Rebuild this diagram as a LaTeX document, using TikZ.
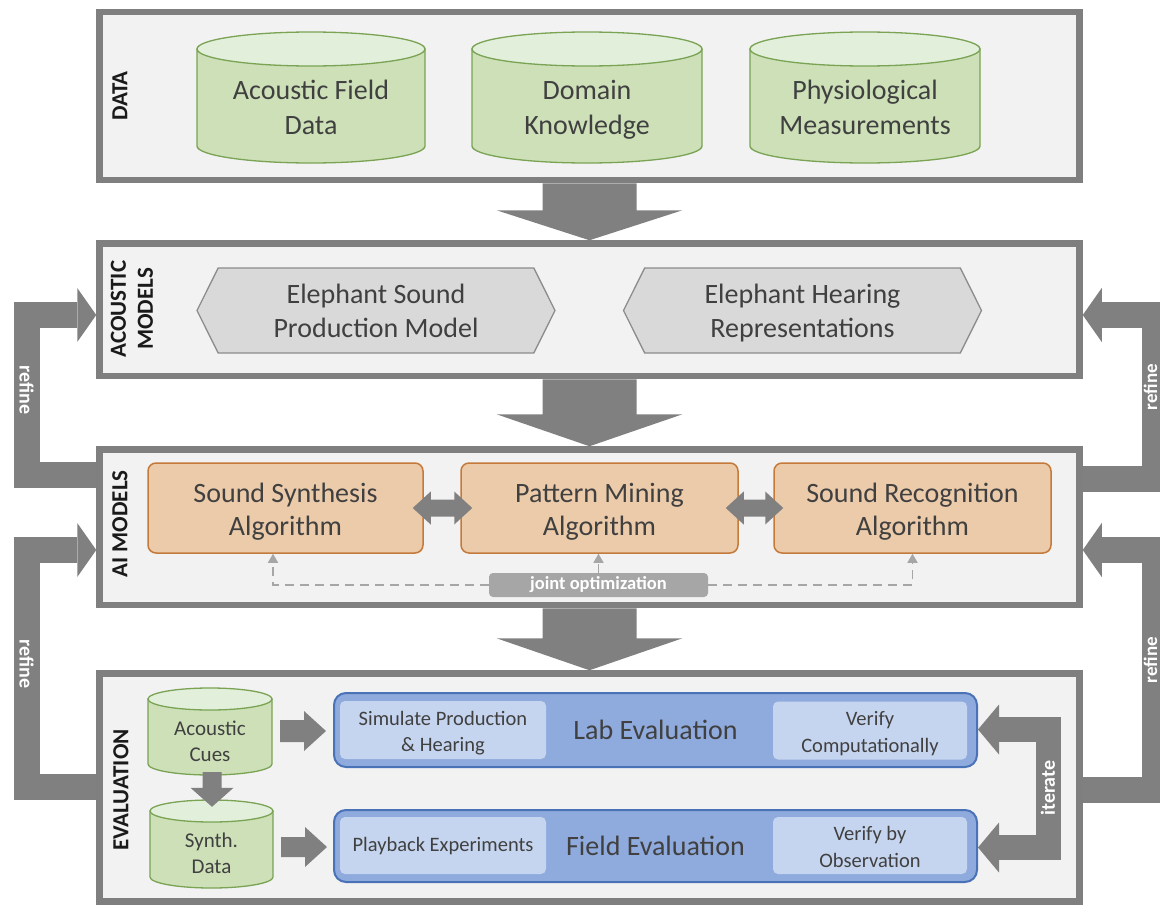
\documentclass[tikz,border=0pt]{standalone}
\usepackage{fontspec}
\setmainfont{Carlito}
\usetikzlibrary{calc,shapes.symbols,arrows.meta}

\definecolor{frameGray}{HTML}{7F7F7F}
\definecolor{panelFill}{HTML}{F2F2F2}
\definecolor{blockGray}{HTML}{808080}
\definecolor{inkDark}{HTML}{404040}
\definecolor{labelInk}{HTML}{1A1A1A}
\definecolor{drumSide}{HTML}{CDE0B8}
\definecolor{drumTop}{HTML}{E2EFDA}
\definecolor{drumEdge}{HTML}{7AA354}
\definecolor{hexFill}{HTML}{D9D9D9}
\definecolor{hexEdge}{HTML}{8C8C8C}
\definecolor{algoFill}{HTML}{ECCBAA}
\definecolor{algoEdge}{HTML}{C47A3A}
\definecolor{evalFill}{HTML}{8FAADC}
\definecolor{evalEdge}{HTML}{4A72B7}
\definecolor{evalSub}{HTML}{C6D5EF}
\definecolor{jointGray}{HTML}{A6A6A6}

% invisible struts that fix the height of the first line and the depth of the last
\newcommand\toprise[1]{\rule{0pt}{#1}}
\newcommand\bottomdrop{\vphantom{gy}}

% cylinder: name, centre x, top y, bottom y, width, cap radius, font, text
\newcommand\drum[8]{%
  \pgfmathsetmacro\drumL{#2-#5/2}\pgfmathsetmacro\drumR{#2+#5/2}%
  \pgfmathsetmacro\drumT{#3+#6}\pgfmathsetmacro\drumB{#4-#6}%
  \pgfmathsetmacro\drumM{(\drumT+#4)/2}\pgfmathsetmacro\drumH{#4-\drumT}%
  \filldraw[drumline,fill=drumSide] (\drumL,\drumT) -- (\drumL,\drumB)
    arc[start angle=180,end angle=0,x radius=#5/2,y radius=#6] -- (\drumR,\drumT) -- cycle;
  \filldraw[drumline,fill=drumTop] (#2,\drumT) ellipse[x radius=#5/2,y radius=#6];
  \node[drumtext,#7,minimum width=#5pt,minimum height=\drumH pt] (#1) at (#2,\drumM) {#8};
}

% straight block arrow: tail, tip, shaft half width, head half width, head length
\newcommand\blockarrow[5]{%
  \coordinate (ba@t) at (#1);\coordinate (ba@h) at (#2);
  \coordinate (ba@b) at ($(ba@h)!#5!(ba@t)$);
  \fill[blockGray] ($(ba@t)!#3!90:(ba@h)$) -- ($(ba@b)!#3!90:(ba@h)$)
    -- ($(ba@b)!#4!90:(ba@h)$) -- (ba@h) -- ($(ba@b)!#4!-90:(ba@h)$)
    -- ($(ba@b)!#3!-90:(ba@h)$) -- ($(ba@t)!#3!-90:(ba@h)$) -- cycle;
}

% bent feedback arrow: tail, first bend, second bend, tip, bar width, head half width
\newcommand\elbowarrow[6]{%
  \coordinate (ea@b) at ($(#4)!19pt!(#3)$);
  \draw[fatline,line width=#5] (#1) -- (#2) -- (#3) -- (ea@b);
  \fill[blockGray] ($(ea@b)!#6!90:(#4)$) -- (#4) -- ($(ea@b)!#6!-90:(#4)$) -- cycle;
}

% two-headed block arrow between neighbours: left tip, right tip
\newcommand\twinarrow[2]{%
  \fill[blockGray] (#1) -- ($(#1)+(18,-16.5)$) -- ($(#1)+(18,-8.5)$) -- ($(#2)+(-18,-8.5)$)
    -- ($(#2)+(-18,-16.5)$) -- (#2) -- ($(#2)+(-18,16.5)$) -- ($(#2)+(-18,8.5)$)
    -- ($(#1)+(18,8.5)$) -- ($(#1)+(18,16.5)$) -- cycle;
}

\begin{document}
\begin{tikzpicture}[x=1pt,y=-1pt,
  panel/.style={draw=frameGray,fill=panelFill,line width=6.5pt,inner sep=0pt},
  section/.style={rotate=90,align=center,text=labelInk,font=\bfseries\fontsize{23}{27}\selectfont},
  drumline/.style={draw=drumEdge,line width=1.3pt},
  drumtext/.style={align=center,text=inkDark,inner sep=0pt},
  bigtext/.style={font=\fontsize{28}{35}\selectfont},
  smalltext/.style={font=\fontsize{21}{26}\selectfont},
  hexa/.style={signal,signal to=west and east,signal pointer angle=127,
    draw=hexEdge,fill=hexFill,line width=1.3pt,align=center,text=inkDark,inner sep=0pt,
    minimum width=358pt,minimum height=85pt,font=\fontsize{28}{34}\selectfont},
  algo/.style={draw=algoEdge,fill=algoFill,line width=1.5pt,rounded corners=8pt,
    align=center,text=inkDark,minimum height=90pt,inner sep=0pt,
    font=\fontsize{28}{33}\selectfont},
  evalbox/.style={draw=evalEdge,fill=evalFill,line width=2pt,rounded corners=12pt,
    minimum width=643pt,inner sep=0pt,text=inkDark,font=\fontsize{28}{33}\selectfont},
  evalsub/.style={fill=evalSub,rounded corners=5pt,align=center,inner sep=0pt,
    text=inkDark,font=\fontsize{20.5}{26.5}\selectfont},
  fatline/.style={draw=blockGray,line join=miter,line cap=butt},
  barlabel/.style={text=white,font=\bfseries\fontsize{20}{24}\selectfont,inner sep=0pt},
  jointline/.style={draw=jointGray,line width=1.5pt,dash pattern=on 9pt off 6pt,
    -{Triangle[length=9pt,width=10pt]}},
  jointbox/.style={fill=jointGray,rounded corners=4pt,text=white,inner sep=0pt,
    minimum width=219pt,minimum height=24pt,font=\bfseries\fontsize{18.5}{22}\selectfont}]

\clip (0,0) rectangle (1160,905);
\fill[white] (0,0) rectangle (1160,905);

% ---------- panels ----------
\node[panel,minimum width=980pt,minimum height=168pt]   (data)     at (589.5,96)     {};
\node[panel,minimum width=980pt,minimum height=132.5pt] (acoustic) at (589.5,309.75) {};
\node[panel,minimum width=980pt,minimum height=155.5pt] (ai)       at (589.5,527.25) {};
\node[panel,minimum width=980pt,minimum height=228pt]   (eval)     at (589.5,787.5)  {};

\node[section] (lblData)  at (120,96)  {DATA};
\node[section] (lblAcou)  at (132,309) {ACOUSTIC\\MODELS};
\node[section] (lblAi)    at (120,524) {AI MODELS};
\node[section] (lblEval)  at (121,790) {EVALUATION};

% ---------- flow between panels ----------
\blockarrow{data.south}{acoustic.north}{47pt}{93pt}{30pt}
\blockarrow{acoustic.south}{ai.north}{47pt}{93pt}{32pt}
\blockarrow{ai.south}{eval.north}{47pt}{93pt}{32pt}

% ---------- data sources ----------
\drum{fieldData}{311}{32}{163}{228}{17}{bigtext}{\toprise{0.95em}Acoustic Field\\Data\bottomdrop}
\drum{domain}{587}{32}{163}{230}{17}{bigtext}{\toprise{0.95em}Domain\\Knowledge\bottomdrop}
\drum{physio}{865}{32}{163}{230}{17}{bigtext}{\toprise{0.95em}Physiological\\Measurements\bottomdrop}

% ---------- acoustic models ----------
\node[hexa] (esp) at (376,310.5)   {\toprise{0.92em}Elephant Sound\\Production Model\bottomdrop};
\node[hexa] (ehr) at (802.5,310.5) {\toprise{0.92em}Elephant Hearing\\Representations\bottomdrop};

% ---------- AI models ----------
\node[algo,minimum width=275pt] (ssa) at (285.5,508) {\toprise{0.95em}Sound Synthesis\\Algorithm\bottomdrop};
\node[algo,minimum width=277pt] (pma) at (599.5,508) {\toprise{0.95em}Pattern Mining\\Algorithm\bottomdrop};
\node[algo,minimum width=277pt] (sra) at (912.5,508) {\toprise{0.95em}Sound Recognition\\Algorithm\bottomdrop};

\twinarrow{$(ssa.east)+(-11,0)$}{$(pma.west)+(12,0)$}
\twinarrow{$(pma.east)+(-13,0)$}{$(sra.west)+(10,0)$}

\node[jointbox] (jo) at (598.5,585) {joint optimization};
\coordinate (jl) at (273,585);
\draw[jointline] (jo.west) -- (jl) -- (jl |- ssa.south);
\draw[jointline] (jo.north) -- (jo.north |- pma.south);
\draw[jointline] (jo.east) -- (jo.east -| sra.south) -- (sra.south);

% ---------- evaluation ----------
\drum{cues}{210}{688}{775}{124}{11}{smalltext}{\toprise{1.22em}Acoustic\\Cues\bottomdrop}
\drum{synth}{211.5}{800}{888}{123}{11}{smalltext}{\toprise{1.22em}Synth.\\Data\bottomdrop}

\node[evalbox,minimum height=74pt] (lab)   at (655.5,730) {\toprise{0.85em}Lab Evaluation\bottomdrop};
\node[evalbox,minimum height=72pt] (field) at (655.5,846) {\toprise{0.85em}Field Evaluation\bottomdrop};
\node[evalsub,minimum width=206pt,minimum height=58pt] (labL)   at (443,730)   {\toprise{1em}Simulate Production\\\& Hearing\bottomdrop};
\node[evalsub,minimum width=194pt,minimum height=58pt] (labR)   at (870,730.5) {\toprise{1em}Verify\\Computationally\bottomdrop};
\node[evalsub,minimum width=206pt,minimum height=57pt] (fieldL) at (443,845.5) {\toprise{0.8em}Playback Experiments\bottomdrop};
\node[evalsub,minimum width=194pt,minimum height=57pt] (fieldR) at (870,845.5) {\toprise{1em}Verify by\\Observation\bottomdrop};

\blockarrow{$(cues.south)+(2,-3)$}{$(synth.north)+(0.5,-4)$}{9.5pt}{21.5pt}{19pt}
\blockarrow{$(cues.east |- lab.west)+(8,1)$}{$(lab.west)+(-7,1)$}{11pt}{20pt}{22pt}
\blockarrow{$(synth.east |- field.west)+(8,1)$}{$(field.west)+(-6,1)$}{10pt}{20pt}{22pt}

% iterate loop between the two evaluations
\coordinate (it1) at (1048,729.5);
\coordinate (it2) at (1048,847.5);
\coordinate (itA) at (lab.east |- it1);
\coordinate (itB) at (field.east |- it2);
\coordinate (itAb) at ($(itA)!21pt!(it1)$);
\coordinate (itBb) at ($(itB)!21pt!(it2)$);
\draw[fatline,line width=25pt] (itAb) -- (it1) -- (it2) -- (itBb);
\fill[blockGray] ($(itAb)!25pt!90:(itA)$) -- (itA) -- ($(itAb)!25pt!-90:(itA)$) -- cycle;
\fill[blockGray] ($(itBb)!25pt!90:(itB)$) -- (itB) -- ($(itBb)!25pt!-90:(itB)$) -- cycle;
\node[barlabel,rotate=90] (iterLbl) at (1048,788) {iterate};

% ---------- refine loops ----------
\coordinate (lu1) at (26.5,475);  \coordinate (lu2) at (26.5,315);
\coordinate (ll1) at (26.5,787);  \coordinate (ll2) at (26.5,550);
\coordinate (ru1) at (1155,479);  \coordinate (ru2) at (1155,315);
\coordinate (rl1) at (1155,790);  \coordinate (rl2) at (1155,550);

\elbowarrow{ai.west |- lu1}{lu1}{lu2}{acoustic.west |- lu2}{26pt}{27pt}
\elbowarrow{eval.west |- ll1}{ll1}{ll2}{ai.west |- ll2}{26pt}{27pt}
\elbowarrow{ai.east |- ru1}{ru1}{ru2}{acoustic.east |- ru2}{26pt}{27pt}
\elbowarrow{eval.east |- rl1}{rl1}{rl2}{ai.east |- rl2}{26pt}{27pt}

\node[barlabel,rotate=-90] (refLU) at (26.5,390)  {refine};
\node[barlabel,rotate=-90] (refLL) at (26.5,664)  {refine};
\node[barlabel,rotate=90,font=\bfseries\fontsize{19}{23}\selectfont] (refRU) at (1150.5,387) {refine};
\node[barlabel,rotate=90,font=\bfseries\fontsize{19}{23}\selectfont] (refRL) at (1150.5,660) {refine};

\end{tikzpicture}
\end{document}
